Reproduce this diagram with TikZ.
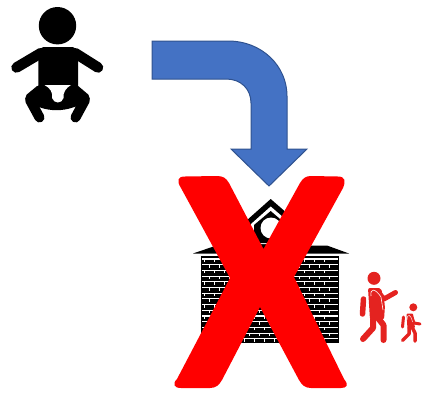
\documentclass[tikz,border=0pt]{standalone}
\definecolor{arrowblue}{HTML}{4472C4}
\definecolor{arrowedge}{HTML}{2F528F}
\definecolor{walkred}{HTML}{E42320}
\tikzset{
  limb/.style={line width=#1,line cap=round,line join=round},
  mortar/.style={white,line width=1.1pt},
}
\begin{document}
\begin{tikzpicture}[x=1pt,y=-1pt]
\useasboundingbox (0,0) rectangle (424,392);
% baby
\fill (57.5,25.7) circle (18.7);
\fill (43,47.2) -- (73,47.2) -- (78,50) -- (78,86) -- (38.3,86) -- (38.3,50) -- cycle;
\draw[limb=10.5pt] (41,53) -- (16.5,67.5);
\draw[limb=10.5pt] (75,53) -- (98,67.5);
\fill[rounded corners=2pt] (38.3,85) -- (25,96) -- (27,104) -- (39,107) .. controls (50,111) and (63,111) .. (74,107) -- (88,104) -- (90,96) -- (77,85) -- cycle;
\draw[limb=10pt] (30,100) -- (39.5,117.5);
\draw[limb=10pt] (85,100) -- (75.5,117.5);
\fill[white] (44.5,85) -- (71,85) .. controls (66,88) and (63,92) .. (63.5,98) .. controls (62,104) and (54,104) .. (52,98) .. controls (53,92) and (50,88) .. (44.5,85) -- cycle;
% arrow
\draw[fill=arrowblue,draw=arrowedge,line width=1pt,line join=miter]
 (152,41) -- (228,41) .. controls (262,41) and (287,66) .. (287,96) -- (287,149) -- (307,149) -- (269,186) -- (231,149) -- (251,149) -- (251,103) .. controls (251,89) and (241,79) .. (226,79) -- (152,79) -- cycle;
% house
\fill (193,253.5) -- (215,246) -- (327,245.5) -- (349,253.5) -- cycle;
\fill (270.7,199) -- (296,221) -- (296,246) -- (246,246) -- (246,221) -- cycle;
\fill[white] (270.7,206.5) -- (291,224) -- (291,244) -- (251,244) -- (251,224) -- cycle;
\fill (270.7,211) -- (287,225) -- (287,243) -- (254,243) -- (254,225) -- cycle;
\fill[white] (271,228) circle (10.5);
\fill (201,256) rectangle (339,343);
\foreach \r in {0,...,14}{
  \pgfmathsetmacro{\yy}{259+5.7*\r}
  \draw[mortar] (202,\yy) -- (338,\yy);
  \pgfmathsetmacro{\off}{mod(\r,2)*5}
  \foreach \c in {0,...,12}{
    \pgfmathsetmacro{\xx}{204+\off+10*\c}
    \ifdim \xx pt<338pt
      \draw[white,line width=.9pt] (\xx,\yy) -- (\xx,\yy+3);
    \fi
  }
}
% X
\fill[red] (185,176.5) -- (217,176) .. controls (223,176) and (226,178) .. (229,183)
 -- (263.5,249) -- (300,183) .. controls (303,178) and (306,176) .. (311,176)
 -- (338,176.5) .. controls (345,176.5) and (346,181) .. (343,188)
 -- (294,277) -- (344,379) .. controls (349,385) and (347,388) .. (341,388)
 -- (311,388) .. controls (305,388) and (302,385) .. (299,380)
 -- (260,307) -- (222,380) .. controls (219,385) and (216,388) .. (210,388)
 -- (181,388) .. controls (174,388) and (172,384) .. (177,379)
 -- (230,278) -- (181,188) .. controls (176,180) and (178,176.5) .. (185,176.5) -- cycle;
% adult walker
\fill[walkred] (374,278.3) circle (6.5);
\fill[walkred,rounded corners=2pt] (368,288) -- (381,288) -- (385,305) -- (384,320) -- (370,320) -- cycle;
\draw[walkred,limb=6pt] (378,318) -- (383.5,325) -- (383.5,340);
\draw[walkred,limb=6pt] (373,319) -- (373,328) -- (363,339);
\draw[walkred,limb=5pt] (378,292) -- (384,299) -- (395.5,292.5);
\draw[walkred,limb=5.5pt] (363.5,299) -- (362.5,314);
\draw[white,line width=.6pt] (371,296) .. controls (370,288) and (375,288) .. (381,297) -- (383,310);
\draw[white,line width=.6pt] (367,297) -- (366.5,315);
% child walker
\fill[walkred] (413.3,307.3) circle (4);
\fill[walkred,rounded corners=1pt] (406.5,313.5) -- (413,313.5) -- (415,328) -- (407.5,329) -- cycle;
\draw[walkred,limb=3.5pt] (412,327) -- (415,333) -- (415,341);
\draw[walkred,limb=3.5pt] (409,328) -- (409,334) -- (402.5,340.5);
\draw[walkred,limb=3pt] (412,317) -- (414,323) -- (420,324);
\draw[walkred,limb=3pt] (403.5,317) -- (402.5,327);
\draw[white,line width=.4pt] (407,320) .. controls (407,313) and (411,314) .. (412.5,322);
\end{tikzpicture}
\end{document}
